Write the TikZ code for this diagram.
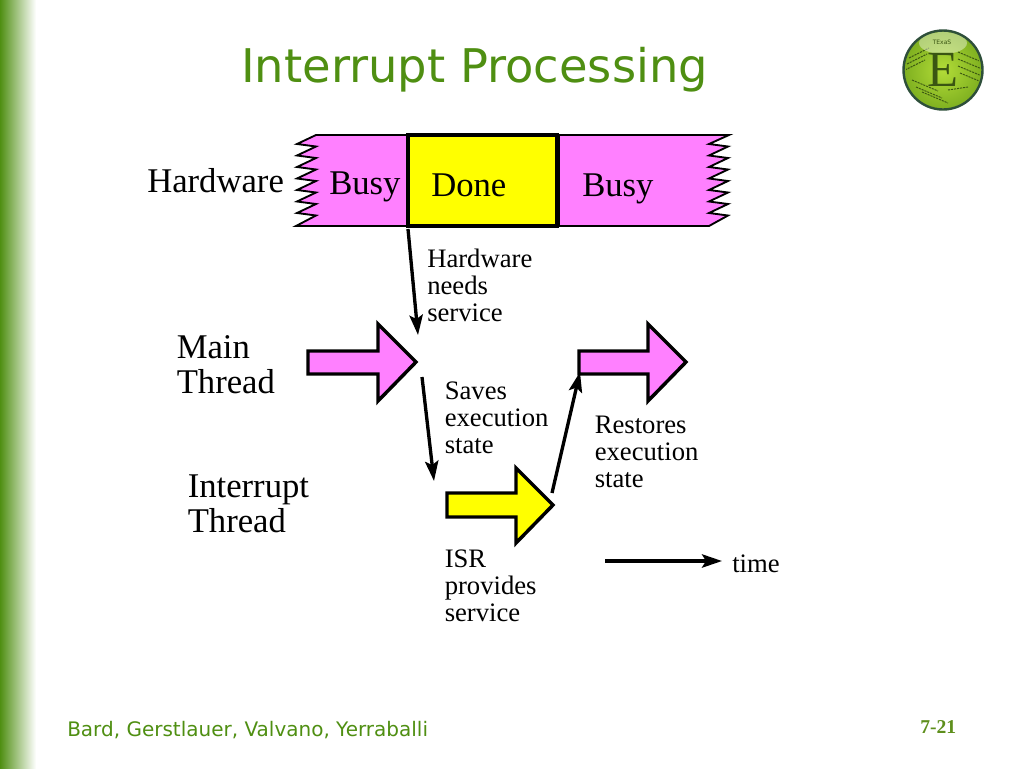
\documentclass[tikz,border=0pt]{standalone}
\usepackage{fontspec}
\setmainfont{Liberation Serif}
\newfontfamily\verd{DejaVu Sans}
\usetikzlibrary{arrows.meta,shadings}
\definecolor{slidegreen}{HTML}{4F8F12}
\definecolor{pagegreen}{HTML}{5E8F1C}
\definecolor{pinkfill}{HTML}{FF80FF}
\definecolor{pureyellow}{HTML}{FFFF00}
\definecolor{logoink}{HTML}{3A5512}
\definecolor{logoinner}{HTML}{B2DC38}
\definecolor{logoouter}{HTML}{7FB020}
\definecolor{logoring}{HTML}{2E4F3A}
\tikzset{
 x=0.75pt,y=-0.75pt,
 blockarrow/.style={draw=black,line width=2.6pt,miter limit=10,line join=miter},
 busyband/.style={draw=black,fill=pinkfill,line width=1.4pt,line join=miter,miter limit=10},
 flow/.style={draw=black,line width=2.5pt,-{Stealth[length=15pt,width=10pt,inset=3pt]}},
 biglabel/.style={inner sep=0pt,anchor=north west,align=left,font=\fontsize{26}{26}\selectfont},
 smalllabel/.style={inner sep=0pt,anchor=north west,align=left,font=\fontsize{20}{20.25}\selectfont},
 cellword/.style={inner sep=0pt,anchor=base west,font=\fontsize{26}{26}\selectfont},
 logomark/.style={logoink,line width=.7pt,dash pattern=on 1.6pt off .7pt},
}
\begin{document}
\begin{tikzpicture}
\useasboundingbox (0,0) rectangle (1024,768);
\fill[white] (0,0) rectangle (1024,768);
\shade[left color=slidegreen,right color=white] (0,0) rectangle (36,768);
% title and footer
\node[inner sep=0pt,anchor=base west,text=slidegreen,font=\verd\fontsize{34.8}{36}\selectfont] (title) at (241,82) {Interrupt Processing};
\node[inner sep=0pt,anchor=base west,text=slidegreen,font=\verd\fontsize{15}{18}\selectfont] (foot) at (67,736) {Bard, Gerstlauer, Valvano, Yerraballi};
\node[inner sep=0pt,anchor=base west,text=pagegreen,font=\bfseries\fontsize{14.7}{16}\selectfont] (page) at (920,733) {7-21};
% logo
\shade[inner color=logoinner,outer color=logoouter] (943,70) circle (39);
\begin{scope}
\clip (943,70) circle (37);
\foreach \a/\b in {905/70,907/64,909/58}{\draw[logomark] (\a,\b) -- ++(20,-10);}
\foreach \a/\b in {958/52,958/59,958/66,960/73}{\draw[logomark] (\a,\b) -- ++(24,10);}
\foreach \a/\b in {912/80,916/87,922/92}{\draw[logomark] (\a,\b) -- ++(26,11);}
\draw[logomark] (948,90) -- ++(20,-3);
\end{scope}
\fill[white,opacity=.4] (943,43) ellipse (24 and 11);
\draw[logoring,line width=1.8pt] (943,70) circle (39.5);
\node[inner sep=0pt,text=logoink,font=\verd\fontsize{4.5}{5}\selectfont] (logotop) at (942,42) {TExaS};
\node[inner sep=0pt,text=logoink,font=\fontsize{38}{38}\selectfont] (logoe) at (943,70) {E};
% hardware bands
\draw[busyband] (316,135) -- (408,135) -- (408,226) -- (296,226)
 -- (316,215.5) -- (297,213) -- (316,204) -- (297,201.5) -- (316,192.5) -- (297,190) -- (316,181) -- (297,178.5) -- (316,169.5) -- (297,167) -- (316,158) -- (297,155.5) -- (316,146.5) -- (297,144) -- cycle;
\draw[busyband] (559,135) -- (729,135) -- (709,144) -- (728,146.5) -- (709,155.5) -- (728,158) -- (709,167) -- (728,169.5) -- (709,178.5) -- (728,181) -- (709,190) -- (728,192.5) -- (709,201.5) -- (728,204) -- (709,213) -- (728,215.5) -- (709,226) -- (559,226) -- cycle;
\node[draw=black,fill=pureyellow,line width=2.4pt,minimum width=111.75pt,minimum height=68.25pt,inner sep=0pt,outer sep=0pt,anchor=north west] (done) at (408,135) {};
\node[cellword] (busyA) at (329,194) {Busy};
\node[cellword] (doneT) at (431,196) {Done};
\node[cellword] (busyB) at (582,196) {Busy};
\node[cellword] (hw) at (147,192) {Hardware};
% block arrows
\draw[blockarrow,fill=pinkfill] (308,351) -- (378,351) -- (378,324) -- (416,362) -- (378,401) -- (378,374) -- (308,374) -- cycle;
\draw[blockarrow,fill=pinkfill] (579,351) -- (648,351) -- (648,324) -- (686,362) -- (648,401) -- (648,374) -- (579,374) -- cycle;
\draw[blockarrow,fill=pureyellow] (447,493) -- (516,493) -- (516,468) -- (553,505) -- (516,543) -- (516,517) -- (447,517) -- cycle;
% connector ends
\coordinate (c1a) at (408,229); \coordinate (c1b) at (418,335);
\coordinate (c2a) at (422,377); \coordinate (c2b) at (434,481);
\coordinate (c3a) at (552,493); \coordinate (c3b) at (580,372);
\coordinate (c4a) at (605,561); \coordinate (c4b) at (722,561);
\draw[flow] (c1a) -- (c1b);
\draw[flow] (c2a) -- (c2b);
\draw[flow] (c3a) -- (c3b);
\draw[flow] (c4a) -- (c4b);
% labels
\node[biglabel] (main) at (176.5,335.5) {Main\\Thread};
\node[biglabel] (intr) at (187.5,474.5) {Interrupt\\Thread};
\node[smalllabel] (l1) at (427,249) {Hardware\\needs\\service};
\node[smalllabel] (l2) at (444.5,382) {Saves\\execution\\state};
\node[smalllabel] (l3) at (594.5,415.5) {Restores\\execution\\state};
\node[smalllabel] (l4) at (444.5,549.5) {ISR\\provides\\service};
\node[inner sep=0pt,anchor=base west,font=\fontsize{20}{20.25}\selectfont] (time) at (732,572) {time};
\end{tikzpicture}
\end{document}
